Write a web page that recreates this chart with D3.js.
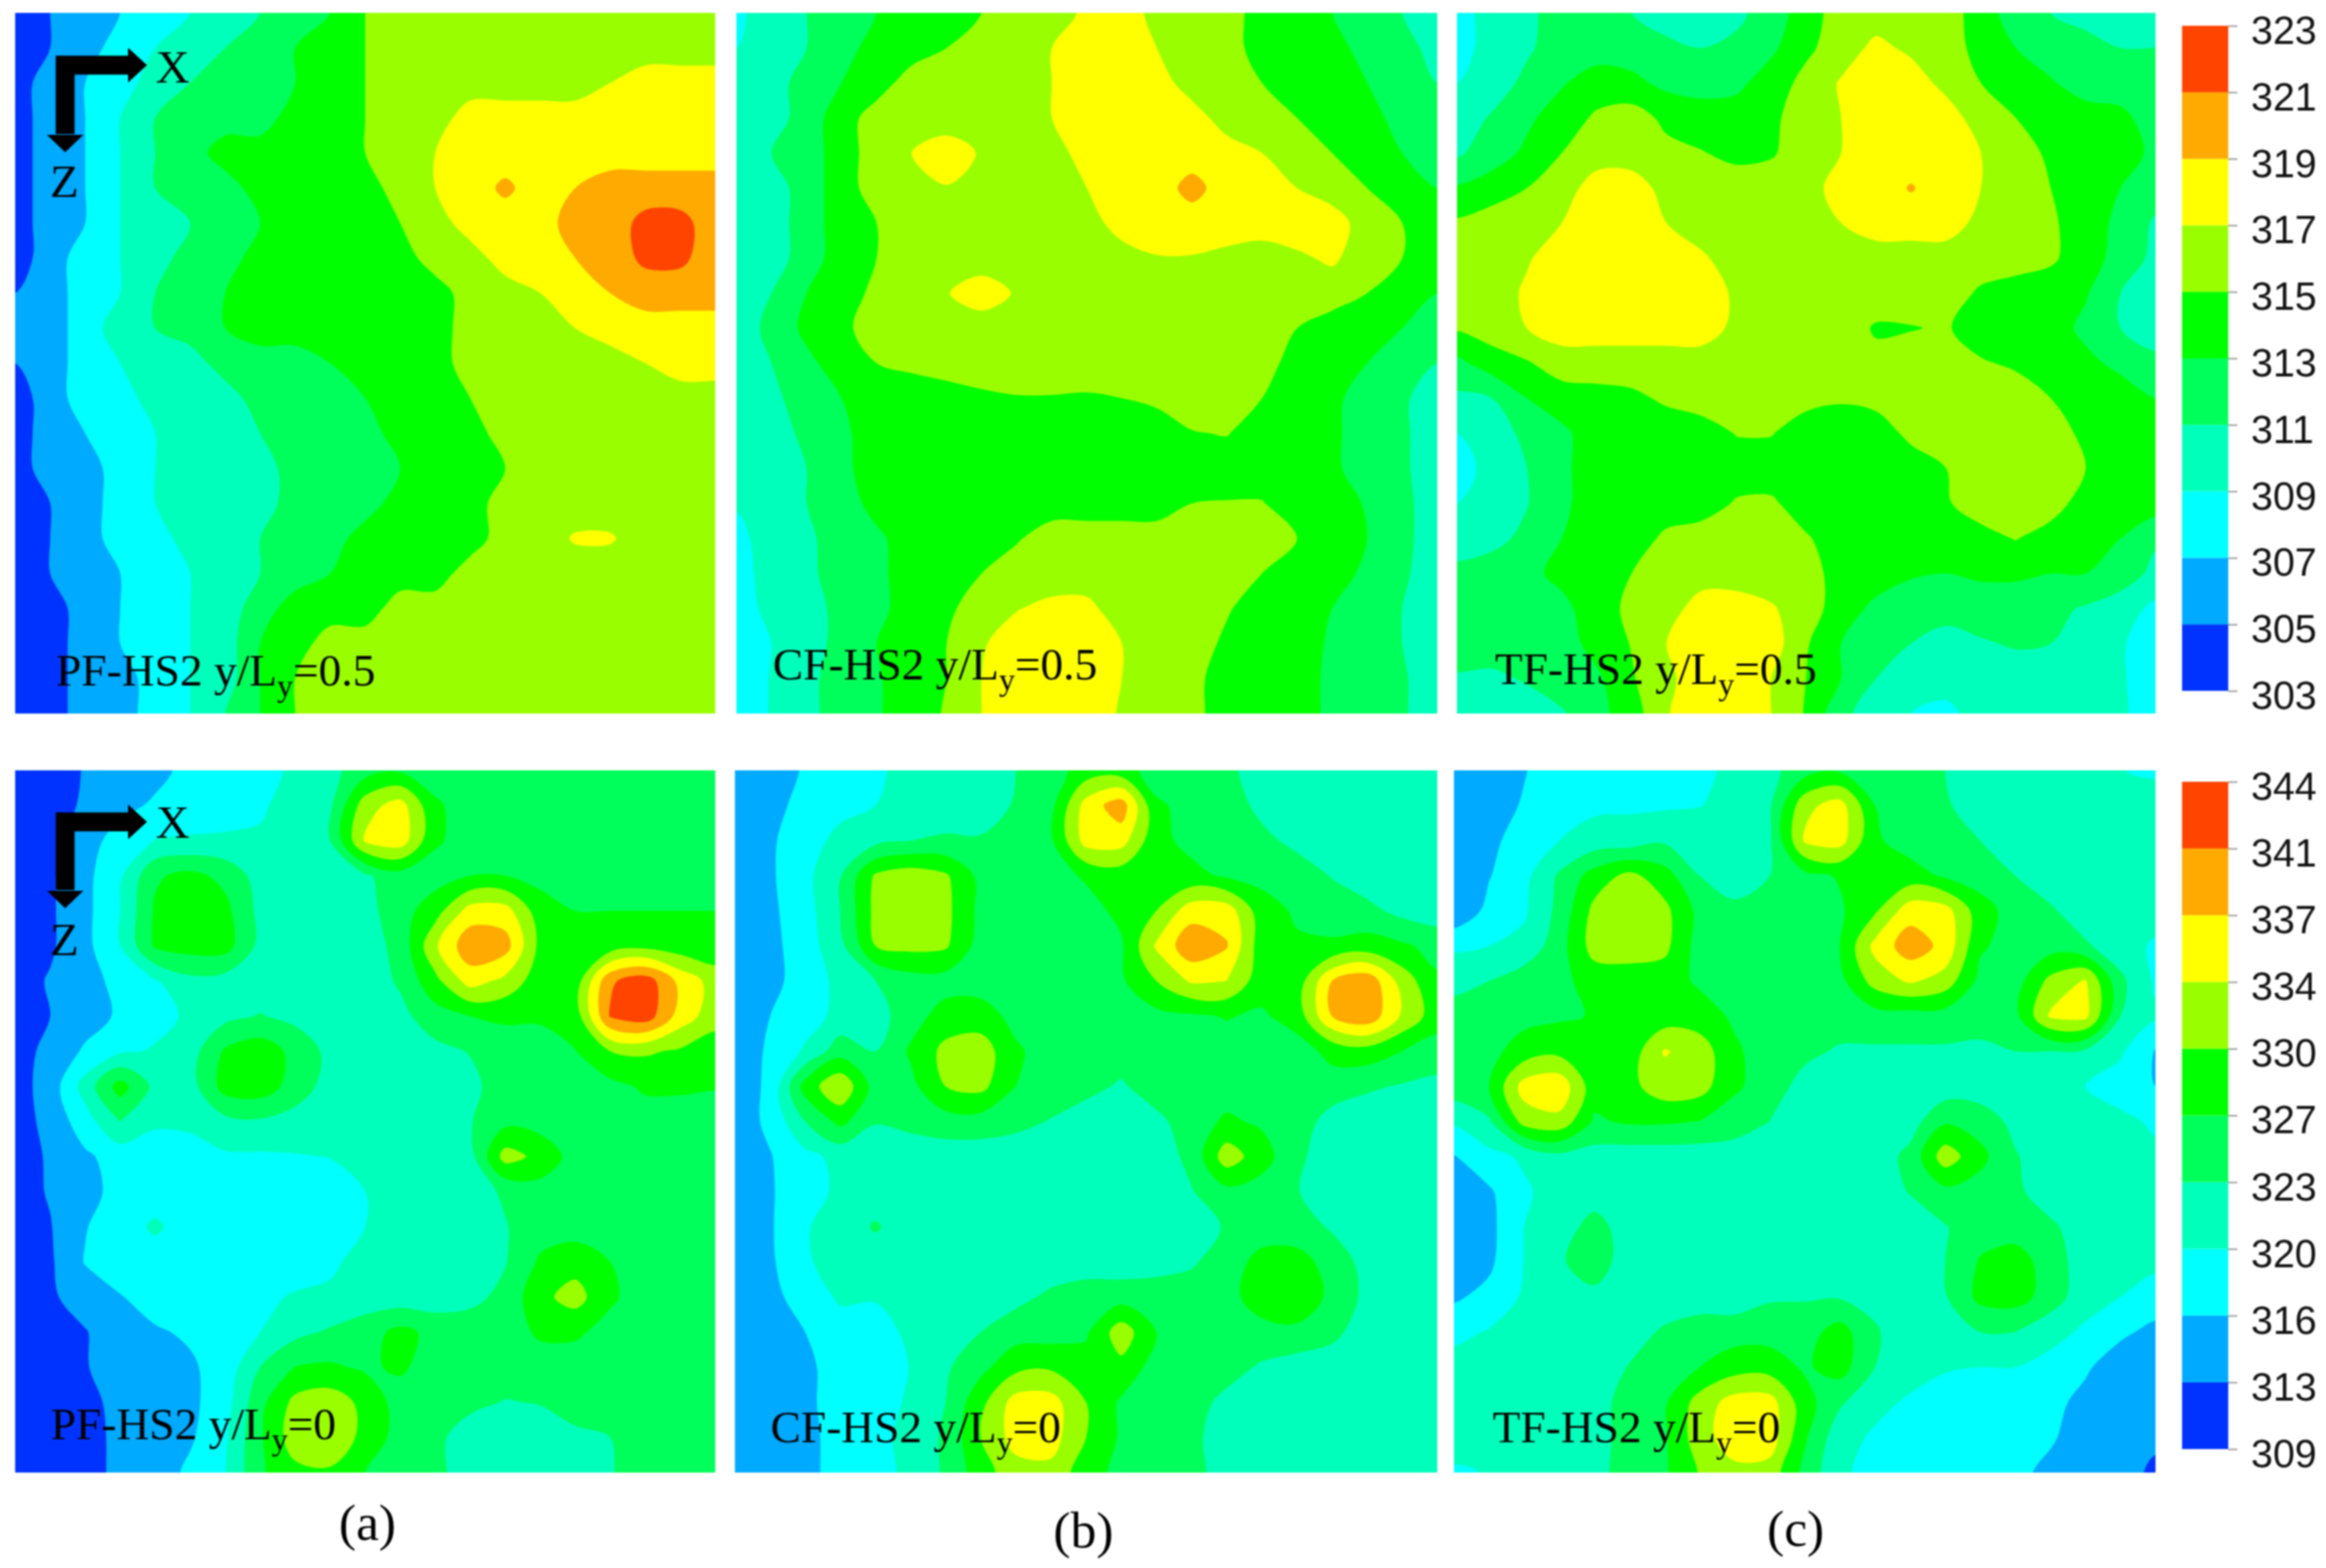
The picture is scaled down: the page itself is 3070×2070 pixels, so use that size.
<!DOCTYPE html>
<html>
<head>
<meta charset="utf-8">
<script src="https://cdn.jsdelivr.net/npm/d3@7"></script>
<style>
  html, body { margin: 0; background: #fff; }
  svg { display: block; filter: blur(0.9px); }
</style>
</head>
<body>
<svg id="chart" width="3070" height="2070"></svg>
<script>
// temperature levels of the two colour bars (K)
const levelsMid = [303, 305, 307, 309, 311, 313, 315, 317, 319, 321, 323];
const levelsWall = [309, 312.5, 316, 319.5, 323, 326.5, 330, 333.5, 337, 340.5, 344];
const labelsMid = ["303", "305", "307", "309", "311", "313", "315", "317", "319", "321", "323"];
const labelsWall = ["309", "313", "316", "320", "323", "327", "330", "334", "337", "341", "344"];
const bandColors = ["#0033ff", "#00aaff", "#00ffff", "#00ffbb", "#00ff5a", "#00ff00", "#99ff00", "#ffff00", "#ffaa00", "#ff4400"];

// temperature, 21 x 21 nodes, row by row from the top
const pfMid = [
  [304,305,306,307,308,309,310,311,312,313,315,316,316,316,316,316,316,316,316,316,316],
  [304,305,306,308,309,310,311,312,313,314,315,316,316,316,316,316,316,316,316,316,316],
  [304,306,307,308,310,311,311,312,313,314,315,316,316,316,316,316,316,317,318,318,318],
  [304,306,307,309,311,312,312,312,314,314,315,316,316,318,318,318,318,318,318,318,318],
  [304,306,307,309,311,312,314,314,314,314,315,316,317,318,318,318,318,318,318,318,318],
  [304,306,307,309,311,312,312,314,314,314,314,316,317,318,319.4,318,319,320,320,320,320],
  [304,306,307,309,310,311,312,313,314,314,314,315,316,318,318,318,320,320,321.6,321.6,320],
  [304,306,308,309,310,312,312,314,314,314,314,314,316,316,318,318,319,320,321.4,321.4,320],
  [305,306,308,309,311,312,313,314,314,314,314,314,314,316,316,317,318,319,320,320,320],
  [306,306,308,310,311,312,313,314,314,314,314,314,314,316,316,316,317,318,318,318,318],
  [305,306,308,309,310,310,312,312,312,313,314,314,314,316,316,316,316,316,317,318,318],
  [304,306,308,308,310,310,310,312,312,312,313,314,314,315,316,316,316,316,316,316,316],
  [304,306,307,308,309,310,310,311,312,312,312,314,314,314,316,316,316,316,316,316,316],
  [304,306,306,308,309,310,310,310,312,312,312,313,314,314,315,316,316,316,316,316,316],
  [304,305,306,308,309,310,310,310,312,312,312,314,314,314,316,316,316,316,316,316,316],
  [304,305,306,308,308,310,310,311,312,312,314,314,314,314,316,316,317.2,317.2,316,316,316],
  [304,305,306,307,308,309,310,311,312,313,314,314,314,316,316,316,316,316,316,316,316],
  [304,304,306,307,308,309,310,312,314,314,314,316,316,316,316,316,316,316,316,316,316],
  [304,304,306,307,308,309,310,313,314,316,316,316,316,316,316,316,316,316,316,316,316],
  [304,304,306,306,308,309,310,313,315,316,316,316,316,316,316,316,316,316,316,316,316],
  [304,304,306,306,308,309,311,313,315,316,316,316,316,316,316,316,316,316,316,316,316]
];
const cfMid = [
  [308.6,310,311,312,313,314,314,315,316,316,317.4,318,316.4,316,316,314,314,313,312,311,310],
  [309,310,311,312,314,314,315,316,316,317,318,318,317,316,316,314,314,314,312,312,310],
  [310,310,312,313,314,316,316,316,316,317,318,318,318,316,316,315,314,314,313,312,311],
  [310,310,312,314,316,316,316,316,316,317,318,318,318,318,316,316,315,314,314,312,311.5],
  [310,311,312,314,316,317,318,316.8,316,316,318,318,318,318,318,317,316,315,314,313,312],
  [310,310,312,314,316,316,316.9,316,316,316,317,318,318,319.7,318,318,317,316,315,314,313],
  [310,310,312,314,315,316,316,316,316,316,316,318,318,318,318,318,318,318,316,315,314],
  [310,310,312,314,315,316,316,316,316,316,316,316,316.9,316.9,316.5,316,316.7,317.3,316,315,314],
  [310,311,313,314,315.5,316,316.9,318,316.8,316,316,316,316,316,316,316,316,316,315,314,313],
  [310,311.5,313.5,314.5,316,316,316,316,316,316,316,316,316,316,316,316,315,314,314,313,312],
  [310,311,312.5,314,315,315.4,316,316,316,316,316,316,316,316,316,316,314,314,313,312,311],
  [310,310.5,312,313,314,314,314,314.65,314.9,314.9,314.8,315,315.4,316,316,315,314,313.5,312,311.3,310],
  [310,310,311.5,312.6,314,314,314,314,314,314,314,314,314,314.9,315.1,314,314,313.4,312,311.3,310],
  [310,310,311,312.5,314,314,314,314,314,314,314,314,314,314,314,314,314,313.4,312,311.3,310],
  [309.2,310,311,312,313.7,314,314,314,314,314,314,314,314,315,315.1,315.1,314,314,312.8,311.5,310],
  [308.4,310,310.6,312,312.6,314,314,314,314.8,316,316,316,316,316,316,316,315,314,313,311.5,310],
  [308,310,310.5,312,312.5,314,314,315,316,316,316,316,316,316,316,315,314,314,312.5,311.3,310],
  [308,309.6,310.3,311.5,312.4,314,314.6,316,316.9,317.5,317.5,316,316,316,315.2,314,314,313,312,311,310],
  [308,309,310.3,311.5,313,314,315,316.8,318,318,318,317,316,316,314.6,314,314,312.7,311.7,311,310],
  [308,309.1,310.4,312,312.8,314,315,317,318,318,318,317,316,315.6,314,314,314,312.5,312,311.2,310],
  [308,309.1,310.4,312,312.8,314,315.2,317,318,318,318,316.8,316,315.6,314,314,313.8,312.6,312,311.2,310]
];
const tfMid = [
  [308,310,310.5,312,312,311,310,310,310.5,312,314,316,316,316,316,314,312,311,310,310,310],
  [308,310,310.7,312,312,312,311.5,311,311.5,312.6,314.6,316,317.5,316.6,316,314.3,313,312,312,311,311],
  [309,310,311.5,312.8,314,313.5,312.5,312.2,312.5,314,315.6,317.2,318,318,316.4,315,314,313.2,312,312,312],
  [310,311.2,312.6,314,315.3,316,314.5,314,314,314.6,316,317,318,318,318,316,315,314,314,313.5,312],
  [310.7,312,313.4,315,316,316,315.6,315.1,314.5,314.8,316,317,318,318,318,317,316,314.6,314,314,312.5],
  [313.2,314,315,316,318,318,316.3,316,316,316,316,318,318,319.15,318,317,316,315,314,313,312],
  [315.3,316,316,317,318,318,317,316,316,316,316,317,318,318,318,316.4,316,315.3,314,312.5,310.7],
  [316,316,316.8,318,318,318,318,317.3,316,316,316,316,316,316,316,316,316,315.3,314,312.2,310.5],
  [316,316,317.3,318,318,318,318,318,316.7,316,316,316,316,316,316,314.7,314,314,313.2,311,310],
  [315.2,316,317,318,318,318,318,318,316.5,316,316,316,314.8,314.9,315.2,314,314,314,312.5,311,310],
  [312.5,314,314.8,316,316,316,316,316,316,316,316,315.6,315.5,316,316,315.2,314.7,314,313.5,312.5,311.5],
  [310.6,311,313,314,314.3,314.6,315.3,316,316,316,315.6,315.2,315.6,316,316,316,316,315,314,314,313],
  [309,310,311.5,312.6,314,314,314,314,315.1,315.1,314,314,314,315.5,316,316,316,316,314.5,314,314],
  [308,309.8,311,312.6,314,314,314,314,314,314,314,314,314,314,315,316,316,316,315,314,314],
  [309,310,310.9,312.6,314,314,314,314,315.2,315.3,314,314,314,314,314.8,316,316,316,314,314,314],
  [310,310.4,311.5,313,314,314,315.4,316,316,316,315.2,314,314,314,314,314.3,315.1,314,314,313,311.3],
  [311.5,312,312.5,313.5,314,315,316,316,316,316,316,314,314,313.2,313,313.3,313.3,313,313,312,310.5],
  [312,312,312,312.5,314,315.5,316,318,318,317.2,316,314,312.5,312,311.5,312,312,311.5,310.8,310,308.5],
  [312,312,312,312,313.8,315.1,317,318,318,318,315.2,313,312,311,310.5,310.8,311.2,311,310,309.2,308],
  [310.8,310.6,311.2,312,312.6,314.8,316.6,318,318,317,315,313,311,310,310,310,310,310,310,309.2,308],
  [310.5,310,310,310.8,312.4,314,316.9,318,318,317,314.8,311.5,310,309,308.4,310,310,310,310,309.3,308]
];
const pfWall = [
  [311,311,312.7,314,315,317,318,318.5,320,322,325,326,325,325,325,325,325,325,325,325,325],
  [311,311,313,315,316.5,318,318,319,321,322.4,332,335,327,325,325,325,325,325,325,325,325],
  [311,311.5,314.5,317.5,319.6,319.8,320,320,321,323,334,335.5,327,325,325,325,325,325,325,325,325],
  [311,312,315,319,326,327.5,325.5,321.5,321,321.5,322.5,325,325,326.5,326.5,325.5,325,325,325,325,325],
  [311,312,315,319.5,327,328,327.5,322,321,321,321.8,325,328.5,335,335,328,326.5,326.5,326.5,326.5,326.5],
  [311,312,315,319.5,327,328,328,322,321,321,321.5,324,333,339.5,338.5,329,328,328,329,328,327.5],
  [311,312.8,315,316.8,319.2,322,321.5,321,321,321,321,323.5,329,335,332.5,328,328,340,342.5,336,332],
  [311,312.5,314.5,316.5,318.5,320,322,323.2,322,321,321,322,325,326.5,327,327,328,340.8,342.5,335.5,331.5],
  [311,313.5,316.5,319,319.8,321.5,327,328.5,325.5,322,321,321,322,323.2,325,325,326.4,330,330.5,329.5,328],
  [311,314,321,328,322,321.5,328,328.5,325,321.5,321,321,321,322,325,325,325,325.5,327,327,326.7],
  [311,313.5,318,323,319.8,320,322,322.5,321.5,321,321,321,321,322.8,325.5,325,325,325,325,325,325],
  [311,312.9,315.4,317.5,318.5,318.5,319,319,319.3,319.6,321,321,321,321.8,331.5,329,325,325,325,325,325],
  [311,312.8,315,317,318,318,318,318,318,318,319.5,321,321,321.5,323.5,325,325,325,325,325,325],
  [311,312.3,315.8,318,320,318,318,318,318,318,319.5,321,321,321,322.8,325,325,325,325,325,325],
  [311,312,316.2,318,318,318,318,318,318,319,320.5,321,321,321.5,322.8,327,328.5,326.5,325,325,325],
  [311,312,314,315.8,317.5,318,318,318.8,319.8,320,321,321,321,322,324,329,331.5,327,325,325,325],
  [311,311,312.3,314.5,315.6,316.5,318,319.5,322,323.5,325,327.5,325.5,325,325,327,327,325.5,325,325,325],
  [311,311,312.3,314,314.5,315.5,317.5,323,326.6,327,326,327,325,325,325,325,325,325,325,325,325],
  [311,311,311.5,313.5,314,315.2,318,325.5,331,332,329,325,325,324,322.8,323.2,325,325,325,325,325],
  [311,311,311,313.5,314,315.5,319,326,332,332.5,329,325,324,321,321,321,322,323,325,325,325],
  [311,311,311,313.5,314,316.8,319.4,326,329,329.5,326.5,325,324,321,321,321,321,322.7,325,325,325]
];
const cfWall = [
  [314,315,316.2,317.5,319,320.5,321,322,323,325,328,328,325,325,324,321,321,321,321,321,321],
  [314,315,317,318.5,319.5,320.5,321,321.5,323.3,325.5,335,339,327,325.5,325,322,321,321,321,321,321],
  [314,315.5,318,320.5,322,323,323.5,323.3,325,326,335,335,327.5,325.5,325,324,322,321,321,321,321],
  [314,315.5,318.5,322.8,330.5,332,330.5,325.5,325,325,327,328,328,327.5,326,325.5,325,322.8,321,321,321],
  [314,315.3,318,323,331,332,331,325.5,325,325,325,327.5,330,335.5,335.5,328,326,325,324,322,321],
  [314,315,317.8,322,330,331,330.5,325,325,325,325,326,334,339.5,337.3,328,327,327,328,327,325.5],
  [314,315,317.5,320.5,323,325,325,325,325,325,325,326,330,334,333.5,328,328,337,339.5,332,327],
  [314,316,318,320.5,321.5,325,328,328,325.5,325,325,325,325.5,326,326.7,326,328,337,339.5,333,328],
  [314,316.5,320,325,323,327,331,332,327,325,325,325,325,325,325,325,325,327.5,328.5,326.5,325],
  [314,316.7,328,333,325,325.5,330,331,326.5,325,324.2,322.5,325,325,325,325,325,325,323.5,322.7,322],
  [314,316.8,323,327.5,323.2,324,325,325,324,322.8,321,321,322,325,327,326,325,321.5,321,321,321],
  [314,315.8,318.5,320.5,321,321,321,321,321,321,321,321,321,324,332,328,323.8,321,321,321,321],
  [314,315.6,318.5,320,321,321,321,321,321,321,321,321,321,322.8,325.5,325,323.2,321,321,321,321],
  [314,315.6,319.2,321,323.4,321,321,321,321,321,321,321,321,321.5,323.3,325,325,322.5,321,321,321],
  [314,315.4,319.2,320.5,321,321,321,321,321,321,321,321,321.5,322.5,325,327.5,327.5,325.5,321.5,321,321],
  [314,315,317.5,320,319.7,321,321,321,322,323.7,325,325,325,325,325.5,328,328,326,322,321,321],
  [314,314.5,316,318,318.5,320,321,323,325,325,326,332,326.5,325,325,325.5,326,324,321,321,321],
  [314,314,315,318,318,319.6,322.5,325.5,329,329.5,328,329,325,325,324.5,322.5,321,321,321,321,321],
  [314,314,315,318,318,320,323,329,335,335,330,326,325,324.5,322,321,321,321,321,321,321],
  [314,314,314.5,318,318,321,323.5,330,335,335,330,326,325,324,321,321,321,321,321,321,321],
  [314,314,314.5,318,318,320.5,323.5,328.5,332,332.5,328,325.5,325,324.5,321,321,321,321,321,321,321]
];
const tfWall = [
  [314,314,315.8,318,318,318,318,318.5,320.5,322,325,326,325,325,323,321,321,321,321,319.6,319],
  [314,314.5,316.3,318,318.8,319,319,319.4,320.5,322.5,332.5,335,326.5,325,323.5,321,321,321,321,321,321],
  [314,315,317.8,319.5,321,321,322.5,321.5,321.5,322.5,334,335,327,325,325,323,321,321,321,321,321],
  [314,315.8,318.5,323.5,328,331,328,323,322,323,325.5,326.8,327,328,326,325,323,321,321,321,321],
  [313,317,319,324,331,332,331,325.5,323.5,325,325,326,329.5,335.5,335,328,325,323.5,321,321,321],
  [319,319.5,320.5,325,331.5,332,331,325,325,325,325,326.5,334.5,339,336,327,325,325,323.5,321,319],
  [321.5,323,325,325.5,328,328,328,326,325,325,325,325.5,331.5,334,332,325.5,325,331,333.8,323.8,319],
  [325,325,325.5,326,326.7,328,328,328,326,325,325,325,325,325,325,325,325.5,334,334.5,323,320],
  [325,325.5,328,329,328,328,333.8,332,327,325,324,322.5,322.5,322.5,322.5,322,323,323,322.5,320,315.8],
  [325,326.5,335,336,328,329,332,331.5,327,325,321.5,321,321,321,321,321,321,321,319.5,318,316],
  [320,322.5,331.5,332.5,326,327,327,326.4,325,323,321,321,321,321.5,326,325,322,321,321,320.3,319],
  [315.8,318.5,320,322,321.5,321,321,321,321,321,321,321,321,324,332,327.5,323.3,321,321,321,320.2],
  [314,315.5,319,321,321,321,321,321,321,321,321,321,321,323.2,325.5,325,323.8,321,321,321,321],
  [314,315,319.5,321,324.5,321,321,321,321,321,321,321,321,321,322.8,325,325,323.7,321,321,321],
  [314,315.3,319.6,322.5,325,321,321,321,321,321,321,321,321,321,323,326.8,328,325,321,321,320.2],
  [315.5,317,320,321,322,321,321,321,321,322.6,322.7,322.7,322,321,322.7,327.5,328,325,320.7,319.5,318],
  [318.5,319.8,321,321,321,321.5,323.5,325,325,325,325,328,323.4,321,321,323,323,320.5,319,316.7,315],
  [321,321,321,321,321,323.2,325,326.5,328.5,328.5,326,328,323,321,319.8,319.5,319.5,318.5,316.5,314,314],
  [321,321,321,321,321,325,326,331.5,335,335,328,323.5,320.5,319,318,318,318,317,315,314,313.5],
  [321,321,321,321,321,325,326,332,335.5,335.5,327,320.8,319,318,318,318,318,316.5,314,314,313],
  [319,319.7,321,321,321.5,325,326,330.2,332.5,332,325.5,320,318.5,318,318,318,317,315,314,313.5,312]
];

// panel boxes and label places
const panels = [
  {grid: pfMid,  levels: levelsMid,  box: [20, 17, 944, 942],    name: "PF-HS2 y/L", val: "=0.5", lx: 74,   ly: 905},
  {grid: cfMid,  levels: levelsMid,  box: [972, 17, 1897, 942],  name: "CF-HS2 y/L", val: "=0.5", lx: 1020, ly: 897},
  {grid: tfMid,  levels: levelsMid,  box: [1923, 17, 2845, 942], name: "TF-HS2 y/L", val: "=0.5", lx: 1973, ly: 903},
  {grid: pfWall, levels: levelsWall, box: [20, 1017, 944, 1944],   name: "PF-HS2 y/L", val: "=0", lx: 67,   ly: 1900},
  {grid: cfWall, levels: levelsWall, box: [970, 1017, 1897, 1944], name: "CF-HS2 y/L", val: "=0", lx: 1017, ly: 1904},
  {grid: tfWall, levels: levelsWall, box: [1919, 1017, 2845, 1944], name: "TF-HS2 y/L", val: "=0", lx: 1970, ly: 1904}
];

const svg = d3.select("#chart");
const defs = svg.append("defs");

const ringLine = d3.line().curve(d3.curveCatmullRomClosed.alpha(0.5));

panels.forEach(function(p, n) {
  const [x0, y0, x1, y1] = p.box;
  const rows = p.grid.length, cols = p.grid[0].length;
  p.grid.forEach(function(r, i) {
    if (r.length !== cols) throw new Error("panel " + n + " row " + i + " has " + r.length);
  });

  // copy the edge nodes one step outwards, so the smoothed outlines end outside the clip
  const padded = [];
  for (let j = -1; j <= rows; j++) {
    for (let i = -1; i <= cols; i++) {
      padded.push(p.grid[Math.max(0, Math.min(rows - 1, j))][Math.max(0, Math.min(cols - 1, i))]);
    }
  }

  const x = d3.scaleLinear().domain([0, cols - 1]).range([x0, x1]);
  const y = d3.scaleLinear().domain([0, rows - 1]).range([y0, y1]);

  const contours = d3.contours()
    .size([cols + 2, rows + 2])
    .thresholds(p.levels.slice(1, -1))(padded);

  defs.append("clipPath").attr("id", "clip" + n)
    .append("rect")
      .attr("x", x0).attr("y", y0)
      .attr("width", x1 - x0).attr("height", y1 - y0);

  const g = svg.append("g").attr("clip-path", "url(#clip" + n + ")");

  g.append("rect")
    .attr("x", x0).attr("y", y0)
    .attr("width", x1 - x0).attr("height", y1 - y0)
    .attr("fill", bandColors[0]);

  g.selectAll("path")
    .data(contours)
    .join("path")
      .attr("fill", function(d, i) { return bandColors[i + 1]; })
      .attr("fill-rule", "evenodd")
      .attr("d", function(d) {
        return d.coordinates.map(function(poly) {
          return poly.map(function(ring) {
            const pts = ring.slice(0, -1)
              .map(function(c) { return [x(c[0] - 1.5), y(c[1] - 1.5)]; })
              .filter(function(c, k, a) {
                return k === 0 || Math.hypot(c[0] - a[k - 1][0], c[1] - a[k - 1][1]) > 0.01;
              });
            return ringLine(pts);
          }).join("");
        }).join("");
      });

  const label = svg.append("text")
    .attr("x", p.lx).attr("y", p.ly)
    .attr("font-family", "Liberation Serif")
    .attr("font-size", 60)
    .attr("fill", "#000");
  label.append("tspan").text(p.name);
  label.append("tspan").attr("font-size", 42).attr("dy", 14).text("y");
  label.append("tspan").attr("dy", -14).text(p.val);
});

// colour bars
function colorBar(levels, labels, yTop, yBottom) {
  const y = d3.scaleLinear().domain([levels[0], levels[levels.length - 1]]).range([yBottom, yTop]);
  const bar = svg.append("g");
  bar.selectAll("rect")
    .data(d3.pairs(levels))
    .join("rect")
      .attr("x", 2880).attr("width", 61)
      .attr("y", function(d) { return y(d[1]); })
      .attr("height", function(d) { return y(d[0]) - y(d[1]); })
      .attr("fill", function(d, i) { return bandColors[i]; });
  const axis = svg.append("g")
    .attr("transform", "translate(2941,0)")
    .call(d3.axisRight(y)
      .tickValues(levels)
      .tickSize(12)
      .tickPadding(18)
      .tickFormat(function(d, i) { return labels[i]; }));
  axis.select(".domain").remove();
  axis.selectAll("line").attr("stroke", "#999").attr("stroke-width", 2);
  axis.selectAll("text")
    .attr("font-family", "Liberation Sans")
    .attr("font-size", 52)
    .attr("fill", "#111")
    .attr("dy", "0.45em");
}
colorBar(levelsMid, labelsMid, 34, 912);
colorBar(levelsWall, labelsWall, 1032, 1913);

// X / Z direction arrows in the left panels
[{hy: 86, zEnd: 201, xBase: 109, z: 260},
 {hy: 1085, zEnd: 1199, xBase: 1106, z: 1261}].forEach(function(a) {
  const g = svg.append("g");
  g.append("path")
    .attr("d", `M86,${a.zEnd - 24} L86,${a.hy} L170,${a.hy}`)
    .attr("fill", "none").attr("stroke", "#000").attr("stroke-width", 25);
  g.append("path")
    .attr("d", `M169,${a.hy - 23} L194,${a.hy} L169,${a.hy + 23} Z`)
    .attr("fill", "#000");
  g.append("path")
    .attr("d", `M62,${a.zEnd - 23} L110,${a.zEnd - 23} L86,${a.zEnd} Z`)
    .attr("fill", "#000");
  g.append("text").attr("x", 228).attr("y", a.xBase)
    .attr("text-anchor", "middle").attr("font-family", "Liberation Serif").attr("font-size", 62).text("X");
  g.append("text").attr("x", 85).attr("y", a.z)
    .attr("text-anchor", "middle").attr("font-family", "Liberation Serif").attr("font-size", 62).text("Z");
});

// captions
svg.selectAll("text.caption")
  .data([["(a)", 485, 2033], ["(b)", 1430, 2043], ["(c)", 2370, 2041]])
  .join("text")
    .attr("class", "caption")
    .attr("x", function(d) { return d[1]; })
    .attr("y", function(d) { return d[2]; })
    .attr("text-anchor", "middle")
    .attr("font-family", "Liberation Serif")
    .attr("font-size", 68)
    .text(function(d) { return d[0]; });
</script>
</body>
</html>
